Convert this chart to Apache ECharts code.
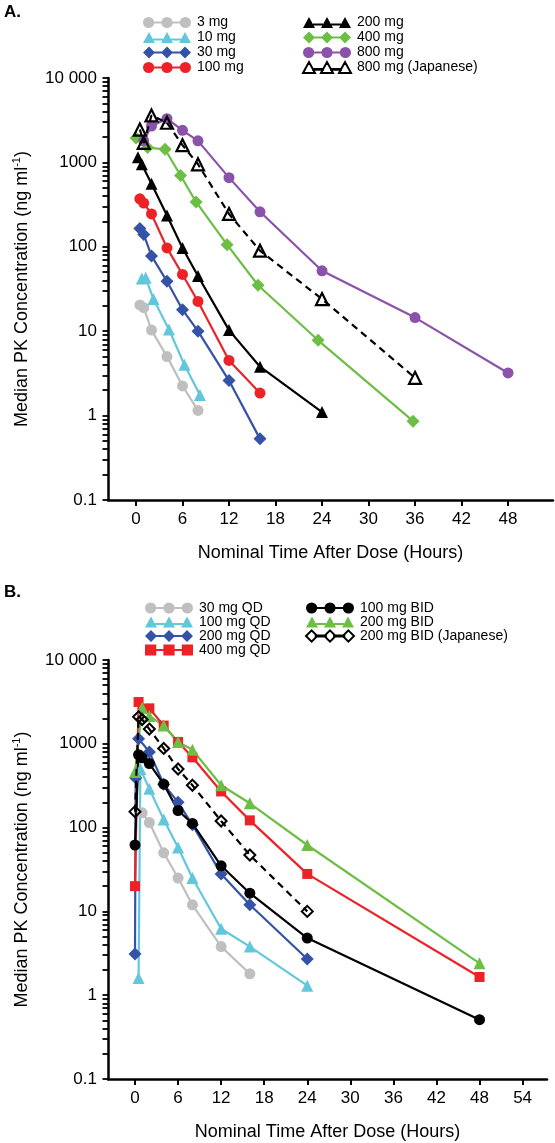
<!DOCTYPE html>
<html>
<head>
<meta charset="utf-8">
<script src="https://cdn.jsdelivr.net/npm/echarts@6/dist/echarts.min.js"></script>
<style>
html,body{margin:0;padding:0;background:#fff;}
#c{width:555px;height:1143px;}
</style>
</head>
<body>
<div id="c"></div>
<script>
// ---------- Panel A : single dose ----------
const aNames = ['3 mg','10 mg','30 mg','100 mg','200 mg','400 mg','800 mg','800 mg (Japanese)'];
const a3T   = [0.5,1,2,4,6,8];
const a3V   = [20.5,19,10.3,5.0,2.25,1.15];
const a10T  = [0.75,1.25,2.25,4.25,6.25,8.25];
const a10V  = [42,43,24,10.5,4.0,1.75];
const a30T  = [0.5,1,2,4,6,8,12,16];
const a30V  = [165,140,78,39,18,10,2.6,0.53];
const a100T = [0.5,1,2,4,6,8,12,16];
const a100V = [370,330,245,97,47,22.5,4.5,1.85];
const a200T = [0.25,0.75,2,4,6,8,12,16,24];
const a200V = [1150,950,560,235,97,45,10.3,3.8,1.1];
const a400T = [0,1.5,3.75,5.75,7.75,11.75,15.75,23.5,35.75];
const a400V = [1950,1500,1430,700,340,106,35,7.8,0.86];
const a800T = [1,2,4,6,8,12,16,24,36,48];
const a800V = [1800,2700,3300,2400,1800,660,260,52,14.5,3.2];
const a800JT = [0.5,1,2,4,6,8,12,16,24,36];
const a800JV = [2450,1700,3600,2950,1600,950,245,90,24,2.8];

// ---------- Panel B : multiple dose ----------
const bNames = ['30 mg QD','100 mg QD','200 mg QD','400 mg QD','100 mg BID','200 mg BID','200 mg BID (Japanese)'];
const b30QDT  = [1,2,4,6,8,12,16];
const b30QDV  = [150,115,50,25,12,3.8,1.8];
const b100QDT = [0.5,0.75,2,4,6,8,12,16,24];
const b100QDV = [1.6,500,290,125,58,25,6.2,3.8,1.3];
const b200QDT = [0,0.1,0.5,2,4,6,8,12,16,24];
const b200QDV = [3.1,390,1150,800,330,200,108,28,12,2.7];
const b400QDT = [0,0.5,2,4,6,8,12,16,24,48];
const b400QDV = [20,3150,2650,1650,1050,690,270,122,28,1.65];
const b100BIDT = [0,0.5,1,2,4,6,8,12,16,24,48];
const b100BIDV = [62,740,680,580,330,160,112,35,16.5,4.8,0.51];
const b200BIDT = [0,1,2,4,6,8,12,16,24,48];
const b200BIDV = [460,2700,2150,1650,1050,850,320,195,62,2.4];
const b200BIDJT = [0,0.5,1,2,4,6,8,12,16,24];
const b200BIDJV = [155,2100,1950,1500,880,500,320,120,47,10];

// ---------- axis ticks ----------
const xTicksA = [0,6,12,18,24,30,36,42,48];
const xTicksB = [0,6,12,18,24,30,36,42,48,54];
const yDecades = [0.1,1,10,100,1000,10000];
const yAllTicks = [];
yDecades.forEach(d => {
  yAllTicks.push(d);
  if (d < 10000) for (let k = 2; k <= 9; k++) yAllTicks.push(+(d*k).toPrecision(3));
});

const X_RANGE_A = [-3.61, 53.8];
const X_RANGE_B = [-3.76, 57.4];

const FONT = 'Liberation Sans, Arial, Helvetica, sans-serif';
const zip = (t, v) => t.map((x, i) => [x, v[i]]);

// legend icon paths (three markers joined by a line)
const P = {
  circle: 'path://M0.5 6A5.5 5.5 0 1 1 11.5 6A5.5 5.5 0 1 1 0.5 6Z M18.5 6A5.5 5.5 0 1 1 29.5 6A5.5 5.5 0 1 1 18.5 6Z M36.5 6A5.5 5.5 0 1 1 47.5 6A5.5 5.5 0 1 1 36.5 6Z M10 5L20 5L20 7L10 7Z M28 5L38 5L38 7L28 7Z',
  triangle: 'path://M0 11.5L6 0.5L12 11.5Z M18 11.5L24 0.5L30 11.5Z M36 11.5L42 0.5L48 11.5Z M10 7L20 7L20 9L10 9Z M28 7L38 7L38 9L28 9Z',
  triangleJ: 'path://M0 11.5L6 0.5L12 11.5Z M18 11.5L24 0.5L30 11.5Z M36 11.5L42 0.5L48 11.5Z M10 7.5L20 7.5L20 8.3L10 8.3Z M28 7.5L38 7.5L38 8.3L28 8.3Z',
  diamond: 'path://M6 0L12 6L6 12L0 6Z M24 0L30 6L24 12L18 6Z M42 0L48 6L42 12L36 6Z M10 5L20 5L20 7L10 7Z M28 5L38 5L38 7L28 7Z',
  diamondJ: 'path://M6 0.5L11.5 6L6 11.5L0.5 6Z M24 0.5L29.5 6L24 11.5L18.5 6Z M42 0.5L47.5 6L42 11.5L36.5 6Z M10 5.6L20 5.6L20 6.4L10 6.4Z M28 5.6L38 5.6L38 6.4L28 6.4Z',
  square: 'path://M0.5 0.5L11.5 0.5L11.5 11.5L0.5 11.5Z M18.5 0.5L29.5 0.5L29.5 11.5L18.5 11.5Z M36.5 0.5L47.5 0.5L47.5 11.5L36.5 11.5Z M10 5L20 5L20 7L10 7Z M28 5L38 5L38 7L28 7Z'
};

const C = {gray:'#bfbfbf', cyan:'#63c7dc', blue:'#3553a6', red:'#ec2227', black:'#000000', green:'#6dbe45', purple:'#8b52a9'};

function mkSeries(name, data, grid, color, symbol, size, opts) {
  opts = opts || {};
  return {
    name: name, type: 'line', data: data,
    xAxisIndex: grid, yAxisIndex: grid,
    symbol: symbol, symbolSize: size,
    showSymbol: true,
    lineStyle: {color: opts.lineColor || color, width: 2.2, type: opts.dash ? [7, 5] : 'solid'},
    itemStyle: {color: opts.fill || color, borderColor: opts.border || color, borderWidth: opts.bw || 0},
    emphasis: {disabled: true},
    z: opts.z || 2
  };
}

const series = [
  mkSeries(aNames[0], zip(a3T, a3V), 0, C.gray, 'circle', 11),
  mkSeries(aNames[1], zip(a10T, a10V), 0, C.cyan, 'triangle', 12),
  mkSeries(aNames[2], zip(a30T, a30V), 0, C.blue, 'diamond', 13),
  mkSeries(aNames[3], zip(a100T, a100V), 0, C.red, 'circle', 11),
  mkSeries(aNames[4], zip(a200T, a200V), 0, C.black, 'triangle', 12),
  mkSeries(aNames[5], zip(a400T, a400V), 0, C.green, 'diamond', 13),
  mkSeries(aNames[6], zip(a800T, a800V), 0, C.purple, 'circle', 11),
  mkSeries(aNames[7], zip(a800JT, a800JV), 0, C.black, 'triangle', 12,
    {dash: true, fill: 'rgba(255,255,255,0)', border: '#000', bw: 2.2, lineColor: '#000', z: 3}),
  mkSeries(bNames[0], zip(b30QDT, b30QDV), 1, C.gray, 'circle', 11),
  mkSeries(bNames[1], zip(b100QDT, b100QDV), 1, C.cyan, 'triangle', 12),
  mkSeries(bNames[2], zip(b200QDT, b200QDV), 1, C.blue, 'diamond', 13),
  mkSeries(bNames[3], zip(b400QDT, b400QDV), 1, C.red, 'rect', 10),
  mkSeries(bNames[4], zip(b100BIDT, b100BIDV), 1, C.black, 'circle', 11),
  mkSeries(bNames[5], zip(b200BIDT, b200BIDV), 1, C.green, 'triangle', 12),
  mkSeries(bNames[6], zip(b200BIDJT, b200BIDJV), 1, C.black, 'diamond', 11,
    {dash: true, fill: 'rgba(255,255,255,0)', border: '#000', bw: 2, lineColor: '#000', z: 3})
];

function legendItem(name, icon, color, open) {
  return {
    name: name, icon: icon,
    itemStyle: open ? {color: 'rgba(255,255,255,0)', borderColor: '#000', borderWidth: 2}
                    : {color: color, borderWidth: 0}
  };
}
const legendText = {color: '#000', fontFamily: FONT, fontSize: 14};

function legend(left, top, lh, data) {
  return {
    orient: 'vertical', left: left, top: top, itemGap: 0,
    itemWidth: 48, itemHeight: 12, selectedMode: false, padding: 0,
    textStyle: Object.assign({lineHeight: lh, padding: [0, 0, 0, 1]}, legendText),
    data: data
  };
}

function xAxis(grid, range, ticks) {
  return {
    type: 'value', gridIndex: grid, min: range[0], max: range[1],
    name: 'Nominal Time After Dose (Hours)', nameLocation: 'middle', nameGap: 44,
    nameTextStyle: {color: '#000', fontFamily: FONT, fontSize: 18},
    axisLine: {show: true, onZero: false, lineStyle: {color: '#000', width: 2.5}},
    axisTick: {show: true, customValues: ticks, length: 6, lineStyle: {color: '#000', width: 2}},
    axisLabel: {show: true, customValues: ticks, margin: 11, color: '#000', fontFamily: FONT, fontSize: 17},
    splitLine: {show: false}
  };
}

function yAxis(grid) {
  return {
    type: 'log', logBase: 10, gridIndex: grid, min: 0.1, max: 10000,
    name: '{a|Median PK Concentration (ng ml}{s|-1}{a|)}',
    nameLocation: 'middle', nameGap: 75, nameRotate: 90,
    nameTextStyle: {
      color: '#000', fontFamily: FONT, fontSize: 18,
      rich: {
        a: {color: '#000', fontFamily: FONT, fontSize: 18, lineHeight: 22},
        s: {color: '#000', fontFamily: FONT, fontSize: 11, lineHeight: 22, verticalAlign: 'top', padding: [0, 0, 9, 0]}
      }
    },
    axisLine: {show: true, onZero: false, lineStyle: {color: '#000', width: 2.5}},
    // decade and 2..9 ticks together, as on the reference ruler-like axis
    axisTick: {show: true, customValues: yAllTicks, length: 5.5, lineStyle: {color: '#000', width: 1.8}},
    axisLabel: {
      show: true, margin: 11, color: '#000', fontFamily: FONT, fontSize: 17,
      formatter: v => (Math.abs(v - 10000) < 1 ? '10 000' : String(+(+v).toPrecision(3)))
    },
    splitLine: {show: false}
  };
}

const option = {
  animation: false,
  backgroundColor: '#ffffff',
  textStyle: {fontFamily: FONT},
  title: [
    {text: 'A.', left: 4, top: 4, padding: 0, textStyle: {fontFamily: FONT, fontSize: 17, fontWeight: 'bold', color: '#000'}},
    {text: 'B.', left: 4, top: 584, padding: 0, textStyle: {fontFamily: FONT, fontSize: 17, fontWeight: 'bold', color: '#000'}}
  ],
  legend: [
    legend(143, 15, 15, [
      legendItem(aNames[0], P.circle, C.gray), legendItem(aNames[1], P.triangle, C.cyan),
      legendItem(aNames[2], P.diamond, C.blue), legendItem(aNames[3], P.circle, C.red)]),
    legend(302, 15, 15, [
      legendItem(aNames[4], P.triangle, C.black), legendItem(aNames[5], P.diamond, C.green),
      legendItem(aNames[6], P.circle, C.purple), legendItem(aNames[7], P.triangleJ, '#000', true)]),
    legend(145, 601, 13.5, [
      legendItem(bNames[0], P.circle, C.gray), legendItem(bNames[1], P.triangle, C.cyan),
      legendItem(bNames[2], P.diamond, C.blue), legendItem(bNames[3], P.square, C.red)]),
    legend(305, 601, 13.5, [
      legendItem(bNames[4], P.circle, C.black), legendItem(bNames[5], P.triangle, C.green),
      legendItem(bNames[6], P.diamondJ, '#000', true)])
  ],
  grid: [
    {left: 108, top: 78, width: 445, height: 422, containLabel: false, outerBoundsMode: 'none'},
    {left: 108, top: 660, width: 439, height: 419, containLabel: false, outerBoundsMode: 'none'}
  ],
  xAxis: [xAxis(0, X_RANGE_A, xTicksA), xAxis(1, X_RANGE_B, xTicksB)],
  yAxis: [yAxis(0), yAxis(1)],
  series: series
};

const chart = echarts.init(document.getElementById('c'), null, {renderer: 'canvas'});
chart.setOption(option);
</script>
</body>
</html>
